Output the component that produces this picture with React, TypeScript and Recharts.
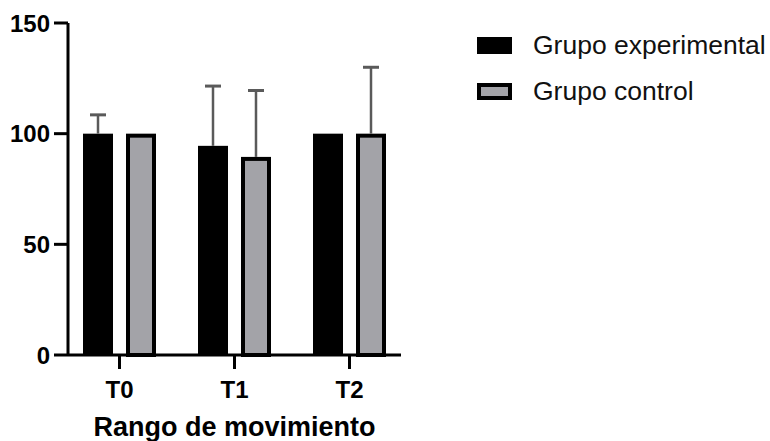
import React from 'react';
import { BarChart, Bar, XAxis, YAxis, Legend } from 'recharts';

const categories = ['T0', 'T1', 'T2'];
const experimental = [100, 94.5, 100];
const control = [100, 89.5, 100];
const experimentalErr = [8.5, 27, 0];
const controlErr = [0, 30, 30];
const yTicks = [0, 50, 100, 150];

const seriesOrder = ['exp', 'ctrl'];
const seriesNames = { exp: 'Grupo experimental', ctrl: 'Grupo control' };

const data = categories.map((c, i) => ({
  name: c,
  exp: experimental[i],
  ctrl: control[i],
  expErr: experimentalErr[i],
  ctrlErr: controlErr[i],
}));

const FONT = '"Liberation Sans", Arial, sans-serif';
const GREY = '#a3a3a8';

function makeShape(errKey: string, fill: string, strokeW: number) {
  return (props: any) => {
    const { x, y, width, height, value, payload } = props;
    const err = payload[errKey] || 0;
    const v = Array.isArray(value) ? value[1] - value[0] : value;
    const pxPerUnit = v ? height / v : 0;
    const errPx = err * pxPerUnit;
    const cx = x + width / 2;
    const hw = 8;
    return (
      <g>
        {strokeW > 0 ? (
          <rect
            x={x + strokeW / 2}
            y={y + strokeW / 2}
            width={width - strokeW}
            height={height - strokeW / 2}
            fill={fill}
            stroke="#000"
            strokeWidth={strokeW}
          />
        ) : (
          <rect x={x} y={y} width={width} height={height} fill={fill} />
        )}
        {err > 0 && (
          <g stroke="#5a5a5a" strokeWidth={2.5}>
            <line x1={cx} y1={y} x2={cx} y2={y - errPx} />
            <line x1={cx - hw} y1={y - errPx} x2={cx + hw} y2={y - errPx} strokeWidth={3} />
          </g>
        )}
      </g>
    );
  };
}

const renderLegend = (props: any) => {
  const payload = [...(props.payload || [])].sort(
    (a: any, b: any) => seriesOrder.indexOf(a.dataKey) - seriesOrder.indexOf(b.dataKey)
  );
  return (
    <div style={{ fontFamily: FONT }}>
      {payload.map((p: any, i: number) => (
        <div key={i} style={{ display: 'flex', alignItems: 'center', height: 46 }}>
          <div
            style={{
              width: 35,
              height: 17,
              boxSizing: 'border-box',
              background: p.dataKey === 'exp' ? '#000' : GREY,
              border: p.dataKey === 'exp' ? 'none' : '4px solid #000',
              marginRight: 21,
            }}
          />
          <span style={{ fontSize: 26.5, color: '#111', whiteSpace: 'nowrap' }}>{p.value}</span>
        </div>
      ))}
    </div>
  );
};

export default function App() {
  return (
    <div style={{ position: 'absolute', left: 0, top: 0, width: 770, height: 441, background: '#fff' }}>
      <BarChart
        width={770}
        height={441}
        data={data}
        margin={{ top: 23, right: 369, bottom: 0, left: 0 }}
        barSize={30}
        barGap={13}
      >
        <XAxis
          dataKey="name"
          height={86}
          padding={{ left: -6, right: -6 }}
          tickSize={14}
          tickMargin={12}
          interval={0}
          axisLine={{ stroke: '#000', strokeWidth: 3 }}
          tickLine={{ stroke: '#000', strokeWidth: 3 }}
          tick={{ fill: '#000', fontSize: 24, fontWeight: 'bold', fontFamily: FONT }}
          label={{
            value: 'Rango de movimiento',
            position: 'insideBottom',
            offset: 5,
            fill: '#000',
            fontSize: 27,
            fontWeight: 'bold',
            fontFamily: FONT,
          }}
        />
        <YAxis
          width={68}
          domain={[0, 150]}
          ticks={yTicks}
          tickSize={14}
          tickMargin={4}
          axisLine={{ stroke: '#000', strokeWidth: 3 }}
          tickLine={{ stroke: '#000', strokeWidth: 3 }}
          tick={{ fill: '#000', fontSize: 24, fontWeight: 'bold', fontFamily: FONT }}
        />
        <Legend
          layout="vertical"
          verticalAlign="middle"
          align="center"
          content={renderLegend}
          wrapperStyle={{ left: 477, top: 22, width: 290 }}
        />
        <Bar
          dataKey="exp"
          name={seriesNames.exp}
          fill="#000"
          isAnimationActive={false}
          shape={makeShape('expErr', '#000', 0)}
        />
        <Bar
          dataKey="ctrl"
          name={seriesNames.ctrl}
          fill={GREY}
          isAnimationActive={false}
          shape={makeShape('ctrlErr', GREY, 4)}
        />
      </BarChart>
    </div>
  );
}
